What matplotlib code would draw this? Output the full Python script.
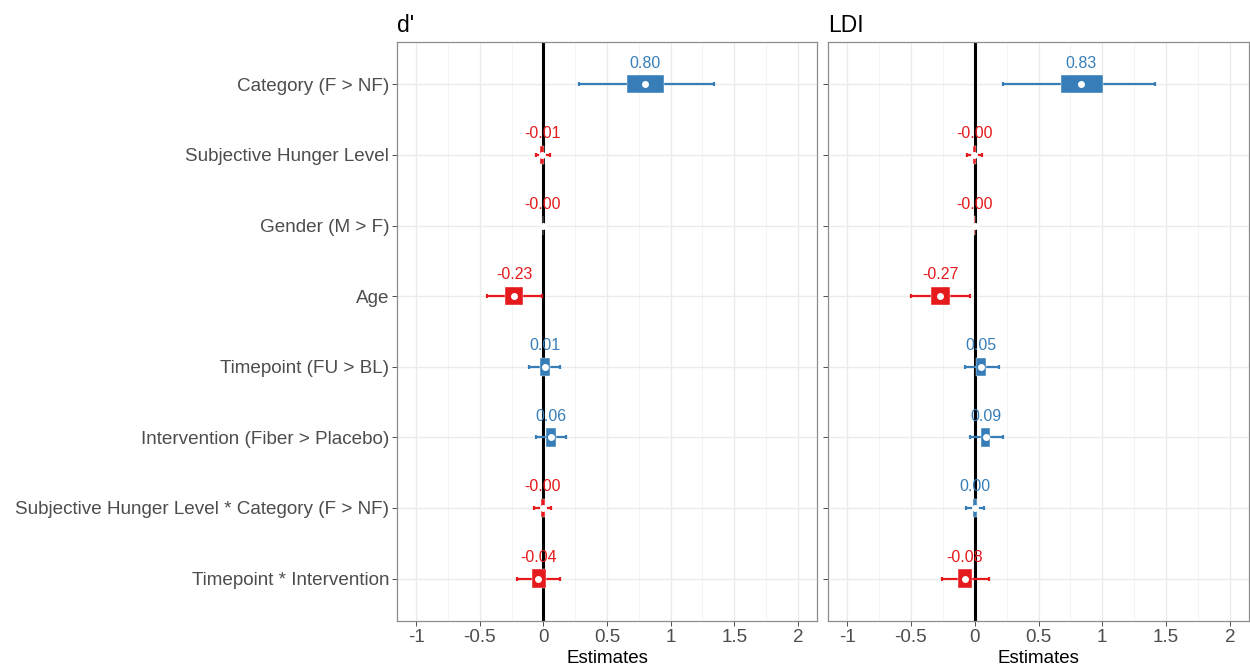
import matplotlib
matplotlib.use("Agg")
import matplotlib.pyplot as plt
from matplotlib.ticker import MultipleLocator

plt.rcParams['font.family'] = ['Liberation Sans', 'DejaVu Sans']

terms = [
    "Category (F > NF)",
    "Subjective Hunger Level",
    "Gender (M > F)",
    "Age",
    "Timepoint (FU > BL)",
    "Intervention (Fiber > Placebo)",
    "Subjective Hunger Level * Category (F > NF)",
    "Timepoint * Intervention",
]

# d' model
dp_est = [0.80, -0.01, -0.003, -0.23, 0.01, 0.06, -0.004, -0.04]
dp_ci_lo = [0.28, -0.06, -0.006, -0.44, -0.11, -0.06, -0.07, -0.21]
dp_ci_hi = [1.34, 0.05, 0.001, -0.01, 0.13, 0.18, 0.06, 0.13]
dp_box_lo = [0.66, -0.025, -0.004, -0.30, -0.03, 0.02, -0.019, -0.09]
dp_box_hi = [0.95, 0.005, -0.002, -0.16, 0.05, 0.10, 0.011, 0.02]

# LDI model
ldi_est = [0.83, -0.002, -0.001, -0.27, 0.05, 0.09, 0.002, -0.08]
ldi_ci_lo = [0.22, -0.06, -0.003, -0.50, -0.08, -0.04, -0.07, -0.26]
ldi_ci_hi = [1.41, 0.06, 0.001, -0.04, 0.19, 0.22, 0.07, 0.11]
ldi_box_lo = [0.675, -0.017, -0.002, -0.34, 0.01, 0.05, -0.013, -0.13]
ldi_box_hi = [1.005, 0.013, 0.000, -0.195, 0.09, 0.12, 0.017, -0.02]

x_ticks = [-1, -0.5, 0, 0.5, 1, 1.5, 2]
x_ticklabels = ["-1", "-0.5", "0", "0.5", "1", "1.5", "2"]

POS = '#377EB8'
NEG = '#E41A1C'


def forest(ax, title, est, ci_lo, ci_hi, box_lo, box_hi, show_labels):
    rows = list(range(len(terms)))
    ax.axvline(0, color='black', lw=2.2, zorder=2)
    for i in rows:
        col = POS if est[i] >= 0 else NEG
        ax.errorbar(est[i], i, xerr=[[est[i] - ci_lo[i]], [ci_hi[i] - est[i]]],
                    fmt='none', ecolor=col, elinewidth=1.6, capsize=1.6,
                    capthick=1.6, zorder=3)
        ax.barh(i, box_hi[i] - box_lo[i], left=box_lo[i], height=0.26,
                color=col, edgecolor='white', linewidth=0.3, zorder=4)
        ax.plot(est[i], i, 'o', color='white', markersize=5, mec='none', zorder=5)
        ax.text(est[i], i - 0.3, '%.2f' % est[i], color=col, fontsize=11.5,
                ha='center', va='center', zorder=6)

    ax.set_xlim(-1.15, 2.15)
    ax.set_ylim(len(terms) - 0.4, -0.6)
    ax.set_xticks(x_ticks)
    ax.set_xticklabels(x_ticklabels)
    ax.xaxis.set_minor_locator(MultipleLocator(0.25))
    ax.set_yticks(rows)
    if show_labels:
        ax.set_yticklabels(terms)
    else:
        ax.set_yticklabels([])
    ax.grid(which='major', color='#EBEBEB', lw=1.0, zorder=0)
    ax.grid(which='minor', axis='x', color='#F2F2F2', lw=0.6, zorder=0)
    ax.set_axisbelow(True)
    ax.tick_params(which='major', length=3.5, width=0.6, color='#333333',
                   labelcolor='#4D4D4D', labelsize=13.6, pad=2)
    ax.tick_params(axis='x', labelsize=13.5)
    ax.tick_params(which='minor', length=0)
    for s in ax.spines.values():
        s.set_color('#8C8C8C')
        s.set_linewidth(0.9)
    ax.set_xlabel('Estimates', fontsize=13.5, color='black', labelpad=3)
    ax.set_title(title, loc='left', fontsize=16.5, pad=7)


fig = plt.figure(figsize=(12.5, 6.68), dpi=100)
ax1 = fig.add_axes([0.3176, 0.0704, 0.336, 0.8668])
ax2 = fig.add_axes([0.6624, 0.0704, 0.3368, 0.8668])

forest(ax1, "d'", dp_est, dp_ci_lo, dp_ci_hi, dp_box_lo, dp_box_hi, True)
forest(ax2, "LDI", ldi_est, ldi_ci_lo, ldi_ci_hi, ldi_box_lo, ldi_box_hi, False)

fig.savefig('out.png', dpi=100, facecolor='white')
